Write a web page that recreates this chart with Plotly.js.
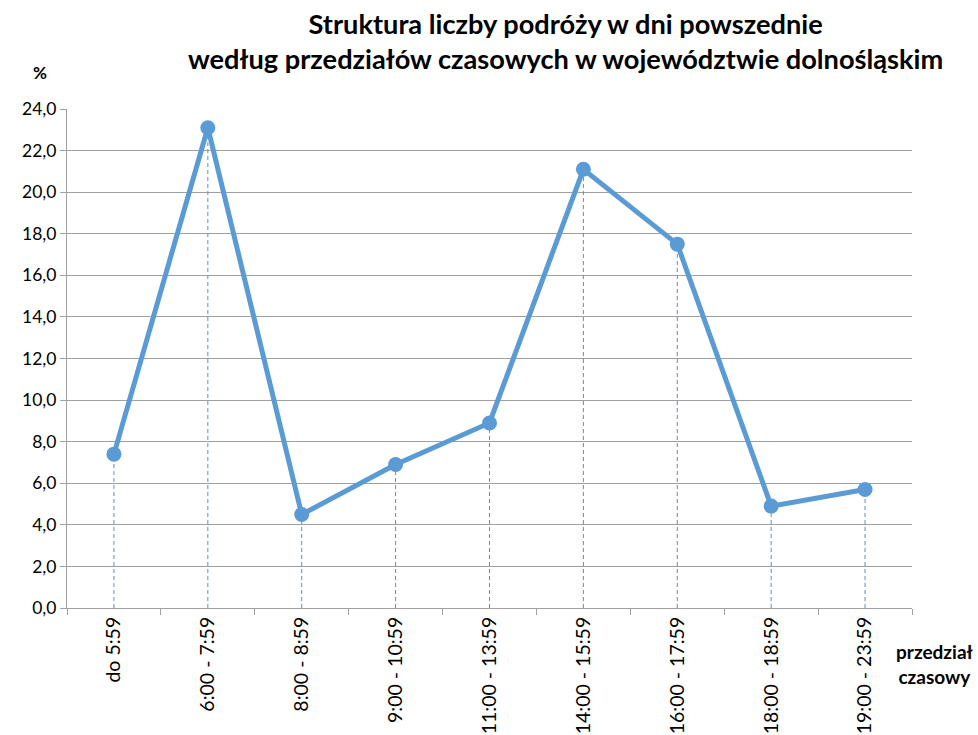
<!DOCTYPE html>
<html><head><meta charset="utf-8">
<script src="https://cdn.plot.ly/plotly-3.0.1.min.js"></script>
<style>body{margin:0}#c{width:978px;height:735px}</style>
</head><body><div id="c"></div>
<script>
const categories = ["do 5:59","6:00 - 7:59","8:00 - 8:59","9:00 - 10:59","11:00 - 13:59","14:00 - 15:59","16:00 - 17:59","18:00 - 18:59","19:00 - 23:59"];
const values = [7.4, 23.1, 4.5, 6.9, 8.9, 21.1, 17.5, 4.9, 5.7];
const yTicks = [0,2,4,6,8,10,12,14,16,18,20,22,24];

const dropX = [], dropY = [];
categories.forEach((c,i)=>{ dropX.push(c,c,null); dropY.push(0,values[i],null); });

const F = "Lato, 'Open Sans', sans-serif";
const blue = "#5b9bd5";
const data = [
  {x: dropX, y: dropY, type:"scatter", mode:"lines", line:{color:"#5a8ccc", width:1, dash:"4px,3px"}, hoverinfo:"skip", showlegend:false, connectgaps:false},
  {x: categories, y: values, type:"scatter", mode:"lines+markers", line:{color:blue, width:5}, marker:{color:blue, size:15}, showlegend:false}
];
const layout = {
  width:978, height:735,
  margin:{l:67, r:66, t:109, b:127},
  paper_bgcolor:"#fff", plot_bgcolor:"#fff",
  separators:", ",
  font:{family:F, color:"#000"},
  xaxis:{type:"category", categoryorder:"array", categoryarray:categories, tickson:"boundaries", ticks:"outside", ticklen:6, tickcolor:"#a0a0a0", showline:true, linecolor:"#a0a0a0", linewidth:1, showgrid:false, tickangle:-90, tickfont:{size:19.5, family:F, color:"#000"}, range:[-0.5,8.5], zeroline:false},
  yaxis:{range:[0,24], tickvals:yTicks, tickformat:".1f", ticks:"outside", ticklen:6, tickcolor:"#a0a0a0", showline:true, linecolor:"#a0a0a0", linewidth:1, showgrid:true, gridcolor:"#a0a0a0", gridwidth:1, tickfont:{size:17.5, family:F, color:"#000"}, zeroline:false},
  annotations:[
    {text:"<b>Struktura liczby podróży w dni powszednie<br>według przedziałów czasowych w województwie dolnośląskim</b>", xref:"paper", yref:"paper", x:0.59, y:1.136, xanchor:"center", yanchor:"middle", showarrow:false, font:{size:27.2, family:F}, align:"center"},
    {text:"<b>%</b>", xref:"paper", yref:"paper", x:-0.032, y:1.074, xanchor:"center", yanchor:"middle", showarrow:false, font:{size:17, family:F}},
    {text:"<b>przedział<br>czasowy</b>", xref:"paper", yref:"paper", x:1.027, y:-0.113, xanchor:"center", yanchor:"middle", showarrow:false, font:{size:19, family:F}, align:"center"}
  ]
};
Plotly.newPlot("c", data, layout, {displayModeBar:false});
</script></body></html>
